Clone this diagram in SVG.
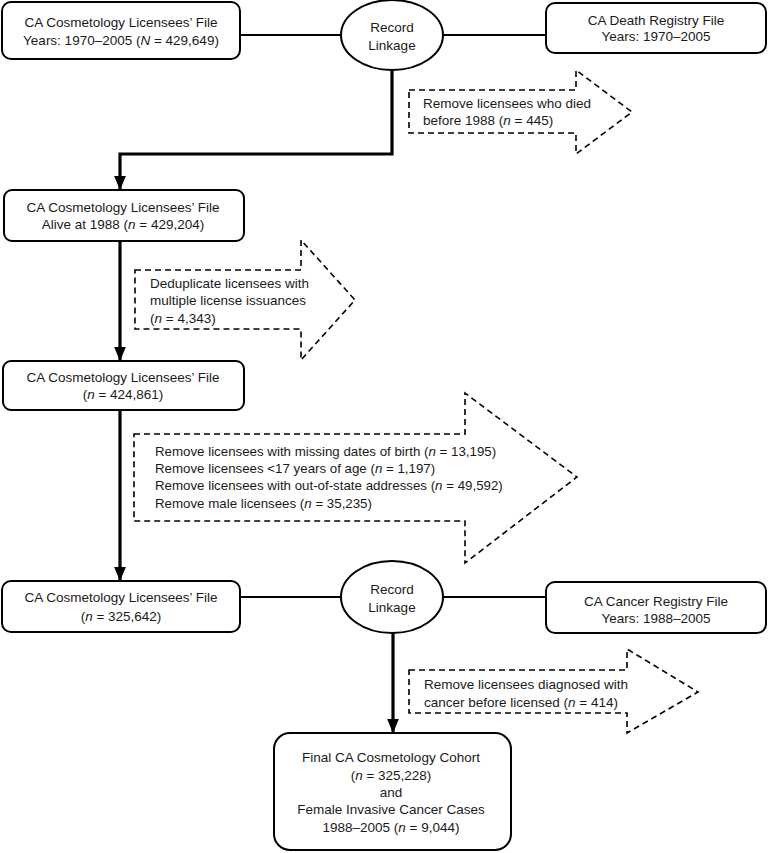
<svg xmlns="http://www.w3.org/2000/svg" width="768" height="853" viewBox="0 0 768 853">
<style>
  .box{fill:#fff;stroke:#000;stroke-width:2}
  .t{font-family:"Liberation Sans",Arial,sans-serif;font-size:13.5px;fill:#1a1a1a}
  .sm{font-size:13.3px}
  .c{text-anchor:middle}
  .thin{fill:none;stroke:#000;stroke-width:2}
  .thick{fill:none;stroke:#000;stroke-width:3.2}
  .dash{fill:#fff;stroke:#000;stroke-width:1.6;stroke-dasharray:6,4}
</style>
<defs>
  <marker id="ah" viewBox="0 0 12 10" refX="11" refY="5" markerWidth="4.4" markerHeight="4" orient="auto" markerUnits="strokeWidth">
    <path d="M0,0 L12,5 L0,10 z" fill="#000"/>
  </marker>
</defs>
<rect width="768" height="853" fill="#fff"/>

<g id="connectors">
  <line class="thin" x1="240" y1="35" x2="342" y2="35"/>
  <line class="thin" x1="443" y1="35" x2="546" y2="35"/>
  <path class="thick" d="M392,70 V154 H120 V189" marker-end="url(#ah)"/>
  <line class="thick" x1="120" y1="241" x2="120" y2="360" marker-end="url(#ah)"/>
  <line class="thick" x1="120" y1="410" x2="120" y2="580" marker-end="url(#ah)"/>
  <line class="thin" x1="240" y1="597" x2="342" y2="597"/>
  <line class="thin" x1="443" y1="597" x2="546" y2="597"/>
  <line class="thick" x1="393" y1="633" x2="393" y2="732" marker-end="url(#ah)"/>
</g>

<g id="licensees1970">
  <rect class="box" x="2" y="2" width="238" height="57" rx="9"/>
  <text class="t c" x="121" y="27">CA Cosmetology Licensees’ File</text>
  <text class="t c" x="121" y="45">Years: 1970–2005 (<tspan font-style="italic">N</tspan> = 429,649)</text>
</g>

<g id="linkage1">
  <ellipse class="box" cx="392" cy="35" rx="51" ry="35"/>
  <text class="t c" x="392" y="32">Record</text>
  <text class="t c" x="392" y="50">Linkage</text>
</g>

<g id="deathRegistry">
  <rect class="box" x="546" y="3" width="220" height="50" rx="9"/>
  <text class="t c" x="656" y="25">CA Death Registry File</text>
  <text class="t c" x="656" y="41">Years: 1970–2005</text>
</g>

<g id="removeDied">
  <path class="dash" d="M409,90 H576 V70 L632,112 L576,154 V133 H409 Z"/>
  <text class="t" x="423" y="108">Remove licensees who died</text>
  <text class="t" x="423" y="125">before 1988 (<tspan font-style="italic">n</tspan> = 445)</text>
</g>

<g id="alive1988">
  <rect class="box" x="4" y="190" width="240" height="51" rx="8"/>
  <text class="t c" x="123" y="212">CA Cosmetology Licensees’ File</text>
  <text class="t c" x="123" y="229">Alive at 1988 (<tspan font-style="italic">n</tspan> = 429,204)</text>
</g>

<g id="dedup">
  <path class="dash" d="M135,270 H301 V240 L355,300 L301,360 V329 H135 Z"/>
  <text class="t" x="150" y="288">Deduplicate licensees with</text>
  <text class="t" x="150" y="305">multiple license issuances</text>
  <text class="t" x="150" y="323">(<tspan font-style="italic">n</tspan> = 4,343)</text>
</g>

<g id="licensees424861">
  <rect class="box" x="3" y="361" width="241" height="49" rx="8"/>
  <text class="t c" x="123" y="382">CA Cosmetology Licensees’ File</text>
  <text class="t c" x="123" y="399">(<tspan font-style="italic">n</tspan> = 424,861)</text>
</g>

<g id="exclusions">
  <path class="dash" d="M134,434 H465 V393 L577,477 L465,563 V521 H134 Z"/>
  <text class="t sm" x="155" y="456">Remove licensees with missing dates of birth (<tspan font-style="italic">n</tspan> = 13,195)</text>
  <text class="t sm" x="155" y="473">Remove licensees &lt;17 years of age (<tspan font-style="italic">n</tspan> = 1,197)</text>
  <text class="t sm" x="155" y="490">Remove licensees with out-of-state addresses (<tspan font-style="italic">n</tspan> = 49,592)</text>
  <text class="t sm" x="155" y="508">Remove male licensees (<tspan font-style="italic">n</tspan> = 35,235)</text>
</g>

<g id="licensees325642">
  <rect class="box" x="2" y="581" width="238" height="51" rx="9"/>
  <text class="t c" x="121" y="602">CA Cosmetology Licensees’ File</text>
  <text class="t c" x="121" y="621">(<tspan font-style="italic">n</tspan> = 325,642)</text>
</g>

<g id="linkage2">
  <ellipse class="box" cx="392" cy="597" rx="51" ry="36"/>
  <text class="t c" x="392" y="594">Record</text>
  <text class="t c" x="392" y="612">Linkage</text>
</g>

<g id="cancerRegistry">
  <rect class="box" x="546" y="582" width="220" height="51" rx="9"/>
  <text class="t c" x="656" y="606">CA Cancer Registry File</text>
  <text class="t c" x="656" y="623">Years: 1988–2005</text>
</g>

<g id="removeCancer">
  <path class="dash" d="M409,670 H627 V649 L698,692 L627,733 V713 H409 Z"/>
  <text class="t" x="424" y="689">Remove licensees diagnosed with</text>
  <text class="t" x="424" y="707">cancer before licensed (<tspan font-style="italic">n</tspan> = 414)</text>
</g>

<g id="finalCohort">
  <rect class="box" x="274" y="733" width="237" height="117" rx="16"/>
  <text class="t c" x="391" y="762">Final CA Cosmetology Cohort</text>
  <text class="t c" x="391" y="780">(<tspan font-style="italic">n</tspan> = 325,228)</text>
  <text class="t c" x="391" y="797">and</text>
  <text class="t c" x="391" y="814">Female Invasive Cancer Cases</text>
  <text class="t c" x="391" y="832">1988–2005 (<tspan font-style="italic">n</tspan> = 9,044)</text>
</g>
</svg>
